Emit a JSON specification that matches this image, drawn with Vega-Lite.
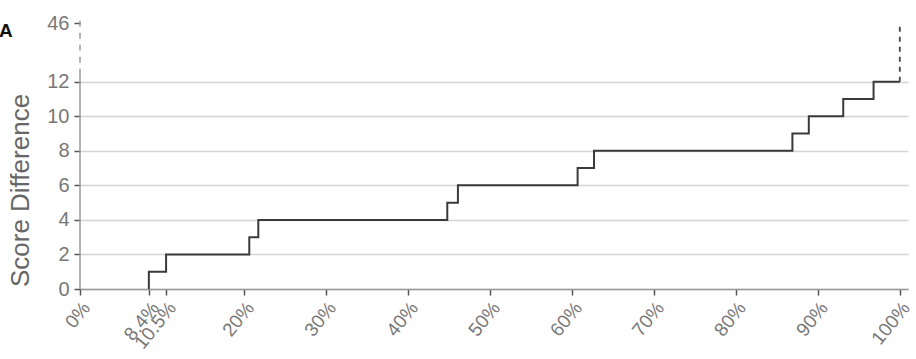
{
  "$schema": "https://vega.github.io/schema/vega-lite/v6.json",
  "width": 828,
  "height": 274,
  "autosize": {"type": "none"},
  "padding": {"left": 80, "top": 15, "right": 8, "bottom": 70},
  "background": "white",
  "config": {
    "view": {"stroke": null},
    "font": "Liberation Sans"
  },
  "title": {
    "text": "A",
    "anchor": "start",
    "frame": "bounds",
    "fontSize": 19,
    "fontWeight": "bold",
    "color": "#111",
    "dx": -8,
    "dy": 32
  },
  "datasets": {
    "steps": [
      {"pct": 8.4, "diff": 0},
      {"pct": 8.4, "diff": 1},
      {"pct": 10.5, "diff": 2},
      {"pct": 20.65, "diff": 3},
      {"pct": 21.75, "diff": 4},
      {"pct": 44.8, "diff": 5},
      {"pct": 46.1, "diff": 6},
      {"pct": 60.7, "diff": 7},
      {"pct": 62.7, "diff": 8},
      {"pct": 86.9, "diff": 9},
      {"pct": 88.9, "diff": 10},
      {"pct": 93.1, "diff": 11},
      {"pct": 96.8, "diff": 12},
      {"pct": 100, "diff": 12}
    ]
  },
  "encoding": {
    "x": {
      "field": "pct",
      "type": "quantitative",
      "scale": {"domain": [0, 101], "nice": false, "zero": true},
      "axis": {
        "values": [0, 8.4, 10.5, 20, 30, 40, 50, 60, 70, 80, 90, 100],
        "labelExpr": "datum.value + '%'",
        "labelAngle": -51,
        "labelFontSize": 19,
        "labelColor": "#777",
        "labelOverlap": false,
        "labelPadding": 9,
        "labelOffset": 6,
        "grid": false,
        "domainColor": "#999",
        "domainWidth": 1.5,
        "tickColor": "#555",
        "tickSize": 6,
        "tickWidth": 1.5,
        "title": null
      }
    },
    "y": {
      "field": "diff",
      "type": "quantitative",
      "scale": {"domain": [0, 12, 50.8], "range": [274, 66.7, 0], "nice": false, "zero": false},
      "axis": {
        "values": [0, 2, 4, 6, 8, 10, 12, 46],
        "labelFontSize": 20,
        "labelColor": "#777",
        "labelPadding": 5,
        "labelOverlap": false,
        "labelFlush": false,
        "domain": false,
        "grid": true,
        "gridColor": "#d4d4d4",
        "gridWidth": 1.5,
        "gridOpacity": {"condition": {"test": "datum.value > 12", "value": 0}, "value": 1},
        "tickColor": "#555",
        "tickSize": 6,
        "tickWidth": 1.5,
        "title": "Score Difference",
        "titleFontSize": 26,
        "titleFontWeight": "normal",
        "titleColor": "#666",
        "titleX": -47,
        "titleY": 175
      }
    }
  },
  "layer": [
    {
      "data": {"name": "steps"},
      "mark": {"type": "line", "interpolate": "step-after", "color": "#3a3a3a", "strokeWidth": 2}
    },
    {
      "data": {"values": [{"pct": 0, "diff": 0, "diff_end": 16}]},
      "mark": {"type": "rule", "color": "#9a9a9a", "strokeWidth": 1.5},
      "encoding": {"y2": {"field": "diff_end"}}
    },
    {
      "data": {"values": [{"pct": 0, "diff": 16, "diff_end": 50.8}]},
      "mark": {"type": "rule", "color": "#9a9a9a", "strokeWidth": 1.5, "strokeDash": [6, 6]},
      "encoding": {"y2": {"field": "diff_end"}}
    },
    {
      "data": {"values": [{"pct": 100, "diff": 12, "diff_end": 46}]},
      "mark": {"type": "rule", "color": "#444", "strokeWidth": 1.8, "strokeDash": [5, 5]},
      "encoding": {"y2": {"field": "diff_end"}}
    }
  ]
}
